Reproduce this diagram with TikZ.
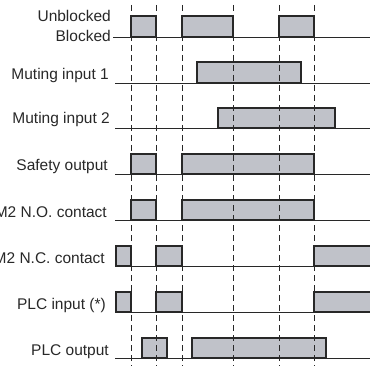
\documentclass[tikz,border=0pt]{standalone}
\usepackage{fontspec}
\setmainfont{Liberation Sans}
\definecolor{pulse}{RGB}{192,194,201}
\definecolor{ink}{RGB}{40,40,40}
\begin{document}
\begin{tikzpicture}[x=1pt,y=-1pt,
  lbl/.style={anchor=base east, inner sep=0pt, font=\fontsize{15.5}{18}\selectfont, text=ink},
  pulsebox/.style={fill=pulse, draw=ink, line width=1.1pt},
  baseln/.style={draw=ink, line width=0.8pt},
  marker/.style={draw=ink, line width=0.9pt, dash pattern=on 6pt off 4pt}]
\useasboundingbox (0,0) rectangle (370,369);
\clip (0,0) rectangle (370,369);
% pulses
\path[pulsebox] (131,16) rectangle (156,37) (182,16) rectangle (233,37) (279,16) rectangle (314,37);
\path[pulsebox] (197,62) rectangle (301,83);
\path[pulsebox] (218,108) rectangle (335,128);
\path[pulsebox] (131,154) rectangle (156,174) (182,154) rectangle (314,174);
\path[pulsebox] (131,200) rectangle (156,220) (182,200) rectangle (314,220);
\path[pulsebox] (116,246) rectangle (131,266) (156,246) rectangle (182,266) (314,246) rectangle (373,266);
\path[pulsebox] (116,292) rectangle (131,312) (156,292) rectangle (182,312) (314,292) rectangle (373,312);
\path[pulsebox] (142,338) rectangle (167,358) (192,338) rectangle (326,358);
% baselines
\draw[baseln] (113,37) -- (370,37);
\foreach \y in {83,128,174,220,266,312,358} \draw[baseln] (115,\y) -- (370,\y);
% dashed markers
\foreach \x in {131,156,182,233,279,314} \draw[marker] (\x,5) -- (\x,366);
% labels
\node[lbl] (unb) at (111,22) {Unblocked};
\node[lbl] (blk) at (111,41.5) {Blocked};
\node[lbl] (mi1) at (109,80) {Muting input 1};
\node[lbl] (mi2) at (110,124) {Muting input 2};
\node[lbl] (so) at (108,170) {Safety output};
\node[lbl] (no) at (107,217) {M2 N.O. contact};
\node[lbl] (nc) at (105,263) {M2 N.C. contact};
\node[lbl] (pin) at (106,309) {PLC input (*)};
\node[lbl] (pout) at (109,355) {PLC output};
\end{tikzpicture}
\end{document}
